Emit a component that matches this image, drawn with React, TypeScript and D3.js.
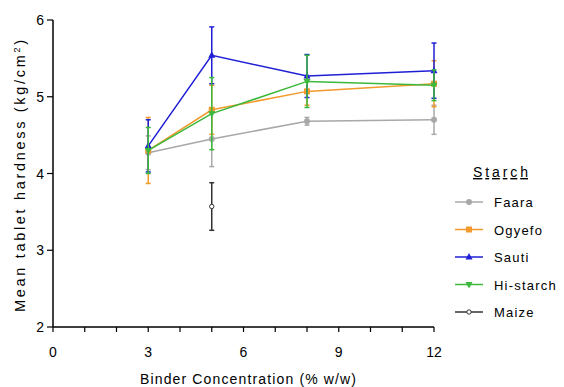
import React, { useRef, useEffect } from 'react'
import * as d3 from 'd3'

const concentrations = [3, 5, 8, 12]
const seriesNames = ['Faara', 'Ogyefo', 'Sauti', 'Hi-starch', 'Maize']
const faaraMean = [4.27, 4.45, 4.68, 4.7]
const faaraSd = [0.22, 0.36, 0.05, 0.19]
const ogyefoMean = [4.3, 4.83, 5.07, 5.17]
const ogyefoSd = [0.43, 0.32, 0.18, 0.3]
const sautiMean = [4.36, 5.54, 5.27, 5.34]
const sautiSd = [0.34, 0.37, 0.28, 0.36]
const histarchMean = [4.3, 4.78, 5.2, 5.15]
const histarchSd = [0.3, 0.47, 0.34, 0.2]
const maizeX = [5]
const maizeMean = [3.57]
const maizeSd = [0.31]
const xTicks = [0, 3, 6, 9, 12]
const yTicks = [2, 3, 4, 5, 6]

const COLORS = ['#a8a8a8', '#f39a2c', '#1f1fd6', '#3cb83c', '#333333']
const SYMBOLS = ['circle', 'square', 'up', 'down', 'open']

interface Pt { x: number; y: number; sd: number }

export default function App() {
  const svgRef = useRef<SVGSVGElement>(null)
  const width = 564
  const height = 387

  useEffect(() => {
    if (!svgRef.current) return
    const svg = d3.select(svgRef.current)
    svg.selectAll('*').remove()

    const x = d3.scaleLinear().domain([0, 12]).range([53, 434])
    const y = d3.scaleLinear().domain([2, 6]).range([327, 20])
    const font = 'Arial, Liberation Sans, sans-serif'

    const series: Pt[][] = [
      concentrations.map((c, i) => ({ x: c, y: faaraMean[i], sd: faaraSd[i] })),
      concentrations.map((c, i) => ({ x: c, y: ogyefoMean[i], sd: ogyefoSd[i] })),
      concentrations.map((c, i) => ({ x: c, y: sautiMean[i], sd: sautiSd[i] })),
      concentrations.map((c, i) => ({ x: c, y: histarchMean[i], sd: histarchSd[i] })),
      maizeX.map((c, i) => ({ x: c, y: maizeMean[i], sd: maizeSd[i] })),
    ]

    // axes
    const ax = svg.append('g').attr('stroke', '#000').attr('stroke-width', 1.5)
    ax.append('line').attr('x1', x(0)).attr('x2', x(12)).attr('y1', y(2)).attr('y2', y(2))
    ax.append('line').attr('x1', x(0)).attr('x2', x(0)).attr('y1', y(2)).attr('y2', y(6))
    d3.range(0, 13).forEach(t => {
      ax.append('line').attr('x1', x(t)).attr('x2', x(t)).attr('y1', y(2)).attr('y2', y(2) + 5)
        .attr('stroke-width', 1.2)
    })
    yTicks.forEach(t => {
      ax.append('line').attr('x1', x(0) - 6).attr('x2', x(0)).attr('y1', y(t)).attr('y2', y(t))
        .attr('stroke-width', 1.2)
    })
    xTicks.forEach(t => {
      svg.append('text').attr('x', x(t)).attr('y', y(2) + 30).attr('text-anchor', 'middle')
        .style('font-family', font).style('font-size', '14px').text(t)
    })
    yTicks.forEach(t => {
      svg.append('text').attr('x', x(0) - 9).attr('y', y(t) + 5).attr('text-anchor', 'end')
        .style('font-family', font).style('font-size', '14px').text(t)
    })
    svg.append('text').attr('x', 140).attr('y', 384)
      .attr('textLength', 216).attr('lengthAdjust', 'spacing')
      .style('font-family', font).style('font-size', '14px').text('Binder Concentration (% w/w)')
    const yl = svg.append('text').attr('transform', `translate(25,312) rotate(-90)`)
      .attr('textLength', 272).attr('lengthAdjust', 'spacing')
      .style('font-family', font).style('font-size', '14.5px')
    yl.append('tspan').text('Mean tablet hardness (kg/cm')
    yl.append('tspan').attr('dy', -5).style('font-size', '9px').text('2')
    yl.append('tspan').attr('dy', 5).text(')')

    const drawSymbol = (g: d3.Selection<SVGGElement, unknown, null, undefined>, kind: string, cx: number, cy: number, color: string) => {
      if (kind === 'circle') g.append('circle').attr('cx', cx).attr('cy', cy).attr('r', 3).attr('fill', color)
      else if (kind === 'open') g.append('circle').attr('cx', cx).attr('cy', cy).attr('r', 2.2).attr('fill', '#fff').attr('stroke', color).attr('stroke-width', 1)
      else if (kind === 'square') g.append('rect').attr('x', cx - 3).attr('y', cy - 3).attr('width', 6).attr('height', 6).attr('fill', color)
      else if (kind === 'up') g.append('path').attr('d', `M${cx},${cy - 4}L${cx + 3.5},${cy + 2.5}L${cx - 3.5},${cy + 2.5}Z`).attr('fill', color)
      else g.append('path').attr('d', `M${cx},${cy + 4}L${cx + 3.5},${cy - 2.5}L${cx - 3.5},${cy - 2.5}Z`).attr('fill', color)
    }

    const line = d3.line<Pt>().x(d => x(d.x)).y(d => y(d.y))
    series.forEach((pts, si) => {
      const color = COLORS[si]
      const g = svg.append('g')
      pts.forEach(p => {
        g.append('line').attr('x1', x(p.x)).attr('x2', x(p.x)).attr('y1', y(p.y - p.sd)).attr('y2', y(p.y + p.sd))
          .attr('stroke', color).attr('stroke-width', 1.5)
        ;[p.y - p.sd, p.y + p.sd].forEach(v => {
          g.append('line').attr('x1', x(p.x) - 2.5).attr('x2', x(p.x) + 2.5).attr('y1', y(v)).attr('y2', y(v))
            .attr('stroke', color).attr('stroke-width', 1.5)
        })
      })
      if (pts.length > 1) {
        g.append('path').attr('d', line(pts)).attr('fill', 'none').attr('stroke', color).attr('stroke-width', 1.5)
      }
      pts.forEach(p => drawSymbol(g, SYMBOLS[si], x(p.x), y(p.y), color))
    })

    // legend
    const lg = svg.append('g')
    lg.append('text').attr('x', 473).attr('y', 177)
      .attr('textLength', 55).attr('lengthAdjust', 'spacing')
      .style('font-family', font).style('font-size', '14px').style('text-decoration', 'underline').text('Starch')
    seriesNames.forEach((name, i) => {
      const ly = 202 + i * 27.5
      lg.append('line').attr('x1', 455).attr('x2', 483).attr('y1', ly).attr('y2', ly)
        .attr('stroke', COLORS[i]).attr('stroke-width', 1.5)
      drawSymbol(lg as any, SYMBOLS[i], 469, ly, COLORS[i])
      lg.append('text').attr('x', 494).attr('y', ly + 5)
        .style('font-family', font).style('font-size', '13px').style('letter-spacing', '1.2px').text(name)
    })
  }, [])

  return (
    <svg ref={svgRef} width={width} height={height}
      style={{ position: 'absolute', left: 0, top: 0, backgroundColor: '#fff' }} />
  )
}
